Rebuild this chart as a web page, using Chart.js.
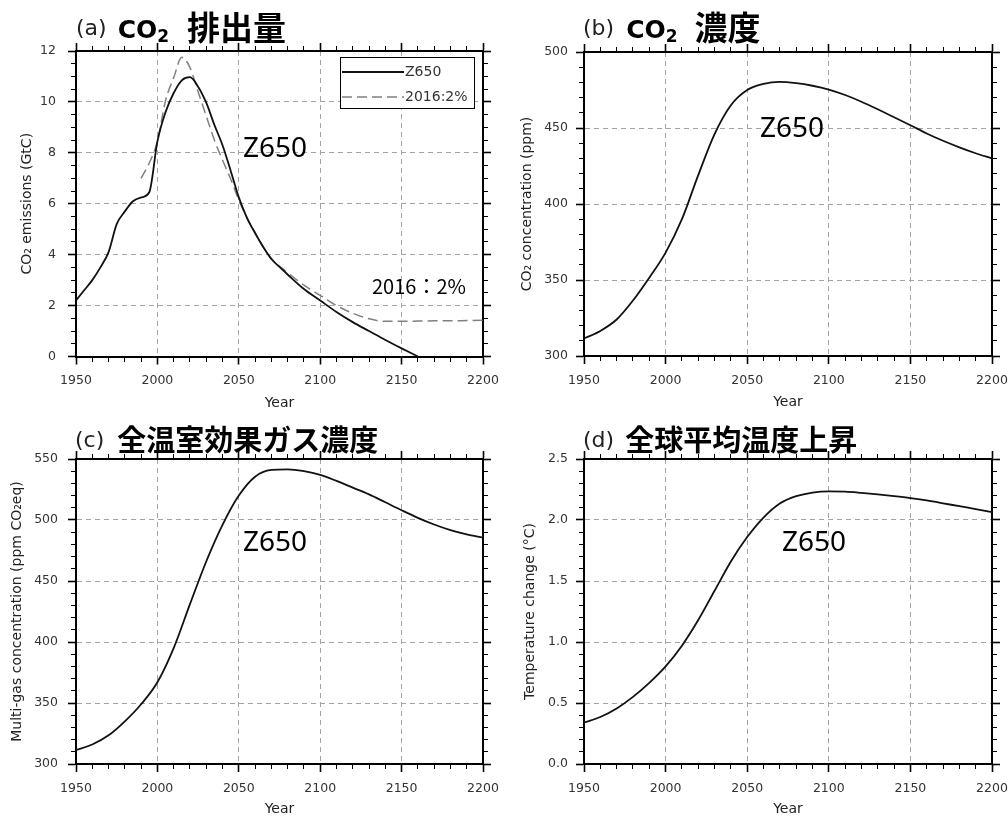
<!DOCTYPE html>
<html>
<head>
<meta charset="utf-8">
<script src="https://cdn.jsdelivr.net/npm/chart.js@4.4.1/dist/chart.umd.min.js"></script>
<style>
body { margin: 0; background: #fff; }
#wrap { position: relative; width: 1008px; height: 818px; overflow: hidden; background: #fff; }
canvas { position: absolute; }
.txt { position: absolute; white-space: nowrap; pointer-events: none; color: #000; }
.ttl { font-family: "Noto Sans CJK JP"; font-weight: bold; font-size: 33px; line-height: 40px; }
.ttl.bot { font-size: 29px; }
.ttl .lab { font-family: "DejaVu Sans"; font-weight: normal; font-size: 22px; color: #222; position: relative; top: -5px; }
.ttl .co { font-family: "DejaVu Sans"; font-weight: bold; font-size: 25px; position: relative; top: -2px; }
.ttl .sub { font-size: 17px; position: relative; top: 4px; }
.ann { font-family: "Noto Sans"; font-size: 28px; line-height: 28px; }
.ann2 { font-family: "Noto Sans CJK JP"; font-size: 20px; line-height: 22px; }
</style>
</head>
<body>
<div id="wrap">
  <canvas id="ca" width="504" height="380" style="left:0;top:40px"></canvas>
  <canvas id="cb" width="504" height="380" style="left:504px;top:40px"></canvas>
  <canvas id="cc" width="504" height="370" style="left:0;top:448px"></canvas>
  <canvas id="cd" width="504" height="370" style="left:504px;top:448px"></canvas>

  <div class="txt ttl" style="left:76px;top:6px"><span class="lab" style="margin-right:11px">(a)</span><span class="co">CO<span class="sub">2</span></span><span style="margin-left:18px">排出量</span></div>
  <div class="txt ttl" style="left:583px;top:6px"><span class="lab" style="margin-right:12px">(b)</span><span class="co">CO<span class="sub">2</span></span><span style="margin-left:17px">濃度</span></div>
  <div class="txt ttl bot" style="left:75px;top:418px"><span class="lab" style="margin-right:13px;top:-4px">(c)</span>全温室効果ガス濃度</div>
  <div class="txt ttl bot" style="left:583px;top:418px"><span class="lab" style="margin-right:11px;top:-4px">(d)</span>全球平均温度上昇</div>

  <div class="txt ann" style="left:243px;top:132px">Z650</div>
  <div class="txt ann" style="left:760px;top:112px">Z650</div>
  <div class="txt ann" style="left:243px;top:526px">Z650</div>
  <div class="txt ann" style="left:782px;top:526px">Z650</div>
  <div class="txt ann2" style="left:372px;top:275px">2016：2%</div>
</div>
<script>
// (a) CO2 emissions, GtC
var emisYears = [1950, 1955, 1960, 1965, 1970, 1975, 1980, 1985, 1990, 1995, 2000, 2005, 2010, 2015, 2020, 2025, 2030, 2035, 2040, 2045, 2050, 2055, 2060, 2065, 2070, 2075, 2080, 2090, 2100, 2110, 2120, 2130, 2140, 2150, 2160];
var emisZ650 = [2.2, 2.6, 3.0, 3.5, 4.1, 5.2, 5.7, 6.1, 6.25, 6.45, 8.45, 9.6, 10.35, 10.85, 10.97, 10.6, 9.97, 9.1, 8.3, 7.3, 6.25, 5.45, 4.85, 4.3, 3.83, 3.52, 3.22, 2.65, 2.2, 1.75, 1.35, 1.0, 0.65, 0.32, 0.0];
var emis2016Years = [1990, 1995, 2000, 2005, 2010, 2015, 2020, 2025, 2030, 2035, 2040, 2045, 2050, 2060, 2070, 2080, 2090, 2100, 2110, 2120, 2130, 2140, 2150, 2160, 2170, 2180, 2190, 2200];
var emis2016 = [7.0, 7.6, 8.45, 10.05, 10.95, 11.75, 11.35, 10.4, 9.45, 8.5, 7.72, 6.97, 6.15, 4.85, 3.85, 3.3, 2.8, 2.4, 2.0, 1.7, 1.48, 1.38, 1.38, 1.39, 1.4, 1.4, 1.41, 1.42];

// (b)-(d) Z650 run, every 10 years
var years = [1950, 1960, 1970, 1980, 1990, 2000, 2010, 2020, 2030, 2040, 2050, 2060, 2070, 2080, 2090, 2100, 2110, 2120, 2130, 2140, 2150, 2160, 2170, 2180, 2190, 2200];
var co2Conc = [311.5, 316.5, 324, 336.5, 351.5, 368, 390, 419, 446, 465, 475, 479, 480.3, 479.5, 477.8, 475.3, 471.7, 467.3, 462.3, 457.1, 451.8, 446.4, 441.6, 437.3, 433.4, 430];
var multiGas = [311.5, 316, 323.5, 335, 349, 367, 395, 431, 466, 496, 520, 535.5, 541, 541.5, 540, 537, 532, 526.5, 521, 514.5, 508, 501.8, 496.3, 491.7, 488.2, 485.5];
var tempChange = [0.34, 0.385, 0.455, 0.55, 0.665, 0.8, 0.97, 1.18, 1.42, 1.66, 1.86, 2.02, 2.135, 2.195, 2.225, 2.235, 2.232, 2.222, 2.21, 2.196, 2.18, 2.16, 2.137, 2.113, 2.09, 2.065];

var seriesNames = ['Z650', '2016:2%'];

Chart.defaults.font.family = 'DejaVu Sans';

function pts(xs, ys) {
	return xs.map(function(x, i) { return {x: x, y: ys[i]}; });
}

function isMajor(v, step) {
	var r = v / step;
	return Math.abs(r - Math.round(r)) < 1e-6;
}

function axis(pos, min, max, step, major, o) {
	var horiz = (pos === 'bottom' || pos === 'top');
	var outer = (pos === 'bottom' || pos === 'right');
	var main = (pos === 'bottom' || pos === 'left');
	return {
		type: 'linear',
		position: pos,
		axis: horiz ? 'x' : 'y',
		min: min,
		max: max,
		afterFit: function(s) {
			if (horiz) s.height = o.size; else s.width = o.size;
			// keep the plot frame where it is, labels may hang over the edges
			s.paddingTop = 0; s.paddingBottom = 0; s.paddingLeft = 0; s.paddingRight = 0;
		},
		border: { display: true, color: '#000', width: 2, dash: [5, 4] },
		grid: {
			drawOnChartArea: main,
			tickLength: 8,
			lineWidth: 1,
			color: function(c) {
				if (!c.tick) return 'rgba(0,0,0,0)';
				var v = c.tick.value;
				return (isMajor(v, major) && Math.abs(v - min) > 1e-6 && Math.abs(v - max) > 1e-6) ? '#a4a4a4' : 'rgba(0,0,0,0)';
			},
			tickColor: '#000',
			tickWidth: function(c) {
				return (c.tick && isMajor(c.tick.value, major)) ? 1.6 : 1;
			},
			tickBorderDash: function(c) {
				if (!c.tick || isMajor(c.tick.value, major)) return [];
				return outer ? [4, 20] : [0, 3, 4, 20];
			}
		},
		ticks: {
			display: main,
			stepSize: step,
			autoSkip: false,
			maxRotation: 0,
			maxTicksLimit: 200,
			padding: o.pad || 0,
			color: '#333',
			font: { family: 'DejaVu Sans', size: 12.5 },
			callback: function(v) {
				if (!isMajor(v, major)) return '';
				return o.fmt ? o.fmt(v) : String(v);
			}
		},
		title: o.title ? {
			display: true,
			text: o.title,
			color: '#222',
			font: { family: 'DejaVu Sans', size: 14 },
			padding: o.tpad
		} : { display: false }
	};
}

function line(label, data, extra) {
	var ds = {
		label: label,
		data: data,
		borderColor: '#111',
		borderWidth: 1.8,
		pointRadius: 0,
		fill: false,
		cubicInterpolationMode: 'monotone'
	};
	for (var k in extra) ds[k] = extra[k];
	return ds;
}

var legendBox = {
	id: 'legendBox',
	afterDatasetsDraw: function(chart) {
		var a = chart.chartArea, ctx = chart.ctx;
		var x = a.right - 143, y = a.top + 6, w = 134, h = 51;
		ctx.save();
		ctx.fillStyle = '#fff';
		ctx.fillRect(x, y, w, h);
		ctx.strokeStyle = '#000';
		ctx.lineWidth = 1;
		ctx.strokeRect(x + 0.5, y + 0.5, w, h);
		chart.data.datasets.forEach(function(ds, i) {
			var ly = y + 15 + i * 25;
			ctx.beginPath();
			ctx.strokeStyle = ds.borderColor;
			ctx.lineWidth = ds.borderWidth;
			ctx.setLineDash(ds.borderDash || []);
			ctx.moveTo(x + 2, ly);
			ctx.lineTo(x + 64, ly);
			ctx.stroke();
			ctx.setLineDash([]);
			ctx.fillStyle = '#333';
			ctx.font = '14px "DejaVu Sans"';
			ctx.textBaseline = 'middle';
			ctx.fillText(ds.label, x + 65, ly);
		});
		ctx.restore();
	}
};

function makeChart(id, datasets, yset, sizes, plugins) {
	return new Chart(document.getElementById(id), {
		type: 'line',
		data: { datasets: datasets },
		options: {
			responsive: false,
			animation: false,
			layout: { padding: 0 },
			plugins: { legend: { display: false }, tooltip: { enabled: false } },
			scales: {
				x: axis('bottom', 1950, 2200, 10, 50, { size: sizes.bottom, pad: 9, title: 'Year', tpad: { top: 0, bottom: sizes.xtpad } }),
				x2: axis('top', 1950, 2200, 10, 50, { size: sizes.top }),
				y: axis('left', yset.min, yset.max, yset.step, yset.major, { size: sizes.left, pad: sizes.ypad, title: yset.title, tpad: { top: sizes.ytpad, bottom: 0 }, fmt: yset.fmt }),
				y2: axis('right', yset.min, yset.max, yset.step, yset.major, { size: sizes.right })
			}
		},
		plugins: plugins || []
	});
}

makeChart('ca', [
	line(seriesNames[0], pts(emisYears, emisZ650), {}),
	line(seriesNames[1], pts(emis2016Years, emis2016), { borderColor: '#808080', borderWidth: 1.5, borderDash: [10, 5] })
], { min: 0, max: 12, step: 0.5, major: 2, title: 'CO₂ emissions (GtC)' },
   { left: 76, right: 21, top: 11, bottom: 63.5, ypad: 12, ytpad: 18.6, xtpad: 8 }, [legendBox]);

makeChart('cb', [line(seriesNames[0], pts(years, co2Conc), {})],
	{ min: 300, max: 500, step: 10, major: 50, title: 'CO₂ concentration (ppm)' },
	{ left: 80, right: 16, top: 12, bottom: 64, ypad: 8, ytpad: 14.6, xtpad: 9 });

makeChart('cc', [line(seriesNames[0], pts(years, multiGas), {})],
	{ min: 300, max: 550, step: 10, major: 50, title: 'Multi-gas concentration (ppm CO₂eq)' },
	{ left: 76, right: 21, top: 11, bottom: 54, ypad: 10, ytpad: 8.6, xtpad: 0 });

makeChart('cd', [line(seriesNames[0], pts(years, tempChange), {})],
	{ min: 0, max: 2.5, step: 0.1, major: 0.5, title: 'Temperature change (°C)', fmt: function(v) { return v.toFixed(1); } },
	{ left: 80, right: 16, top: 11, bottom: 54, ypad: 8, ytpad: 17.6, xtpad: 0 });
</script>
</body>
</html>
